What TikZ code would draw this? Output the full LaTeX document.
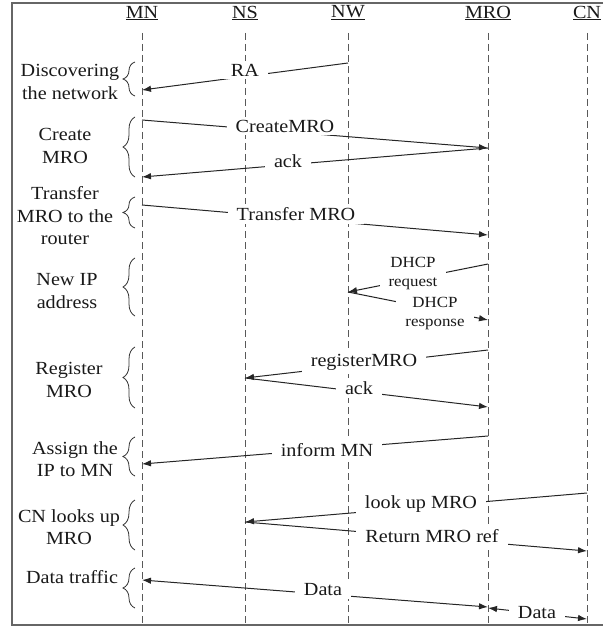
\documentclass[tikz,border=0pt]{standalone}
\usepackage{fontspec}
\setmainfont{Liberation Serif}[FakeStretch=1.09]
\usetikzlibrary{arrows.meta,decorations.pathreplacing}
\begin{document}
\begin{tikzpicture}[x=1pt,y=-1pt,
  font=\fontsize{18.5}{22.5}\selectfont,
  life/.style={draw=black!65, line width=1pt, dash pattern=on 7pt off 4pt},
  msg/.style={draw=black!85, line width=1pt, -{Latex[length=9pt,width=6.5pt]}},
  dmsg/.style={draw=black!85, line width=1pt, {Latex[length=9pt,width=6.5pt]}-{Latex[length=9pt,width=6.5pt]}},
  lbl/.style={fill=white, inner xsep=9pt, inner ysep=3pt, text=black!90},
  small/.style={fill=white, inner xsep=9pt, inner ysep=2pt, text=black!90, font=\fontsize{15.5}{19}\selectfont, align=center},
  phase/.style={align=center, text=black!90, inner sep=0pt},
  br/.style={draw=black!80, line width=0.8pt, decorate, decoration={brace, amplitude=12pt}},
  head/.style={text=black!90, inner sep=1pt}
]
\useasboundingbox (0,0) rectangle (603,628);

% headers
\node[head] (hMN)  at (142,13) {\underline{MN}};
\node[head] (hNS)  at (245,13) {\underline{NS}};
\node[head] (hNW)  at (348,13) {\underline{NW}};
\node[head] (hMRO) at (488,13) {\underline{MRO}};
\node[head] (hCN)  at (587,13) {\underline{CN}};

% lifelines
\foreach \n/\x in {MN/142,NS/245,NW/348,MRO/488,CN/587}{
  \coordinate (\n t) at (\x,33);
  \coordinate (\n b) at (\x,625);
  \draw[life] (\n t) -- (\n b);
}

% message end points
\coordinate (a1) at (348,63);  \coordinate (a2) at (142,90);
\coordinate (b1) at (142,120); \coordinate (b2) at (488,148);
\coordinate (c1) at (488,148); \coordinate (c2) at (142,177);
\coordinate (d1) at (142,205); \coordinate (d2) at (488,235);
\coordinate (e1) at (488,264); \coordinate (e2) at (348,292);
\coordinate (f1) at (348,292); \coordinate (f2) at (488,320);
\coordinate (g1) at (488,350); \coordinate (g2) at (245,378);
\coordinate (h1) at (245,378); \coordinate (h2) at (488,407);
\coordinate (i1) at (488,436); \coordinate (i2) at (142,464);
\coordinate (j1) at (587,493); \coordinate (j2) at (245,522);
\coordinate (k1) at (245,522); \coordinate (k2) at (587,551);
\coordinate (l1) at (142,580); \coordinate (l2) at (488,607);
\coordinate (m1) at (488,608); \coordinate (m2) at (587,619);

\draw[msg] (a1) -- (a2);
\node[lbl] (la) at (245,70) {RA};
\draw[msg] (b1) -- (b2);
\node[lbl] (lb) at (285,126) {CreateMRO};
\draw[msg] (c1) -- (c2);
\node[lbl] (lc) at (288,161) {ack};
\draw[msg] (d1) -- (d2);
\node[lbl] (ld) at (296,214) {Transfer MRO};
\draw[msg] (e1) -- (e2);
\draw[msg] (f1) -- (f2);
\node[small] (le) at (413,274) {DHCP\\request};
\node[small] (lf) at (435,314) {DHCP\\response};
\draw[msg] (g1) -- (g2);
\node[lbl] (lg) at (364,362) {registerMRO};
\draw[msg] (h1) -- (h2);
\node[lbl] (lh) at (359,388) {ack};
\draw[msg] (i1) -- (i2);
\node[lbl] (li) at (327,450) {inform MN};
\draw[msg] (j1) -- (j2);
\node[lbl] (lj) at (421,504) {look up MRO};
\draw[msg] (k1) -- (k2);
\node[lbl] (lk) at (432,536) {Return MRO ref};
\draw[dmsg] (l1) -- (l2);
\node[lbl] (ll) at (323,590) {Data};
\draw[dmsg] (m1) -- (m2);
\node[lbl, inner ysep=1pt] (lm) at (537,613) {Data};

% phases
\node[phase] (p1) at (70,82)  {Discovering\\the network};
\node[phase] (p2) at (65,146) {Create\\MRO};
\node[phase] (p3) at (65,216) {Transfer\\MRO to the\\router};
\node[phase] (p4) at (67,291) {New IP\\address};
\node[phase] (p5) at (69,380) {Register\\MRO};
\node[phase] (p6) at (75,459) {Assign the\\IP to MN};
\node[phase] (p7) at (69,527) {CN looks up\\MRO};
\node[phase] (p8) at (72,577) {Data traffic};

\foreach \t/\b in {62/96,117/177,197/228,258/316,347/408,437/476,500/550,568/608}{
  \draw[br] (135,\b) -- (135,\t);
}

% frame
\draw[black!60, line width=1.2pt] (603,3) -- (12,3) -- (12,625) -- (603,625);
\end{tikzpicture}
\end{document}
